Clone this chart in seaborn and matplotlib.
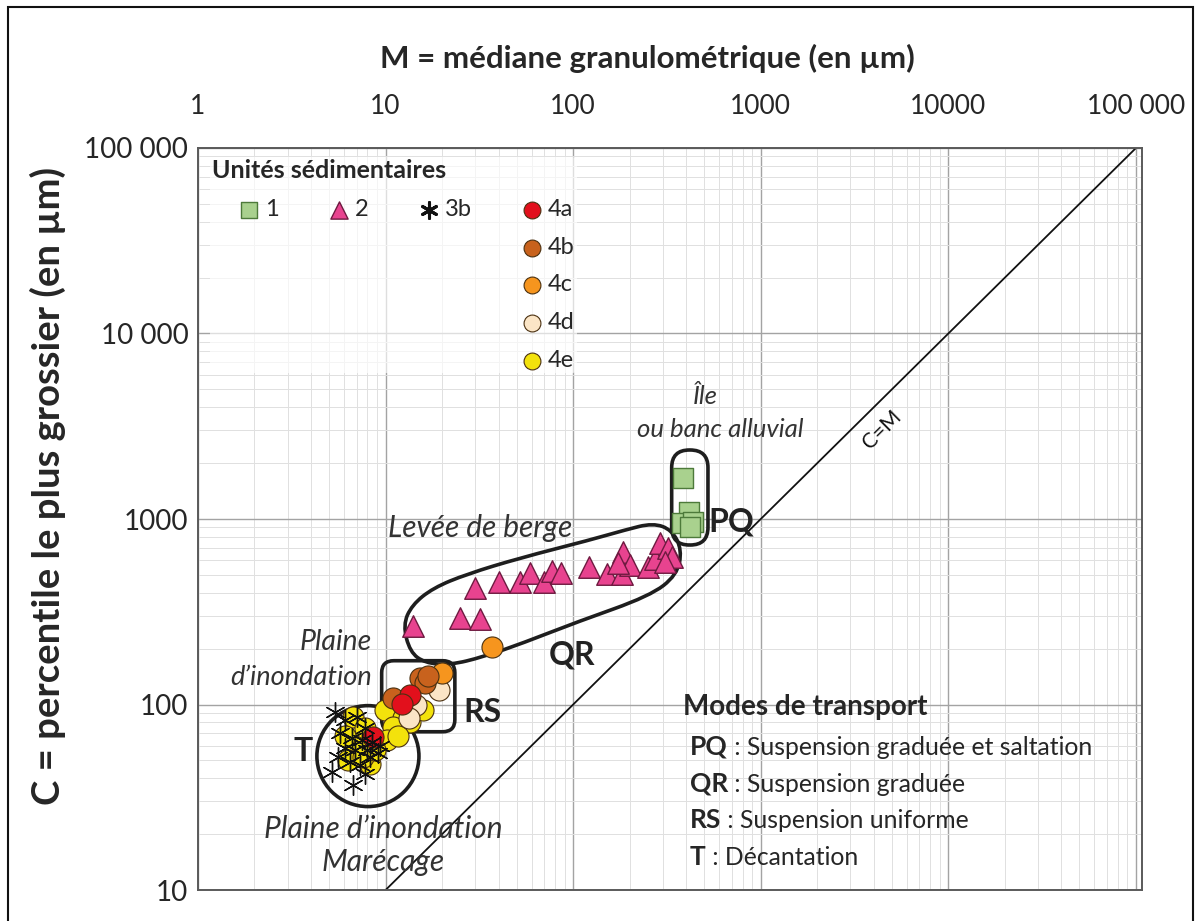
import numpy as np
import pandas as pd
import matplotlib
matplotlib.use('Agg')
import matplotlib.pyplot as plt
import seaborn as sns
from matplotlib.path import Path
from matplotlib.patches import PathPatch, Rectangle
from matplotlib.lines import Line2D
from matplotlib.ticker import LogLocator, NullFormatter

# --- points (M and C in µm) ---
unit1_m = [385, 415, 380, 435, 420]
unit1_c = [1660, 1090, 950, 960, 900]

unit2_m = [14, 25, 32, 30, 40, 52, 59, 70, 77, 86, 122, 151, 185, 181, 201, 173,
           251, 273, 290, 320, 335, 309]
unit2_c = [265, 292, 288, 423, 459, 459, 510, 459, 524, 510, 553, 505, 666, 505, 565, 579,
           553, 609, 742, 698, 626, 589]

unit3b_m = [5.4, 6.1, 7.0, 7.8, 5.7, 6.6, 7.5, 8.5, 6.1, 6.9, 8.0, 9.1, 5.6, 6.5,
            7.3, 8.3, 5.2, 6.7, 7.8, 9.3]
unit3b_c = [91, 82, 86, 75, 70, 66, 64, 63, 58, 57, 57, 55, 52, 49,
            47, 52, 43, 37, 42, 60]

unit4a_m = [13.5, 12.2, 8.6]
unit4a_c = [112, 101, 67]
unit4b_m = [15.3, 16.3, 16.8, 10.9]
unit4b_c = [139, 130, 142, 108]
unit4c_m = [36.8, 20.0]
unit4c_c = [205, 148]
unit4d_m = [19.3, 14.6, 13.3]
unit4d_c = [120, 99, 85]
unit4e_m = [9.9, 12.4, 13.5, 15.8, 10.9, 10.2, 6.7, 6.9, 8.3, 6.3, 7.6, 8.8, 11.6, 7.8, 6.1]
unit4e_c = [93, 85, 80, 93, 76, 64, 86, 62, 48, 50, 52, 57, 68, 75, 68]

# envelopes of the transport modes (µm)
pq_box = (335, 523, 724, 2355)        # M min, M max, C min, C max
rs_box = (9.53, 23.4, 71.3, 172.2)
t_centre = (8.05, 52.7)
qr_m = [12.38, 13.82, 17.89, 27.17, 52.04, 122.9, 188.8, 266.4, 336.3, 380.2,
        357.5, 256.7, 104.8, 54.0, 33.04, 22.04, 16.22, 13.49, 12.38]
qr_c = [268.4, 343.9, 424.6, 505.1, 616.3, 770.6, 872.5, 951.5, 872.5, 680.7,
        498.9, 384.6, 278.5, 214.5, 180.4, 163.3, 167.4, 191.9, 222.7]

cm_line = [10, 107700]

x_ticks = [1, 10, 100, 1000, 10000, 100000]
x_tick_labels = ['1', '10', '100', '1000', '10000', '100 000']
y_ticks = [10, 100, 1000, 10000, 100000]
y_tick_labels = ['10', '100', '1000', '10 000', '100 000']

sns.set_style('white')
plt.rcParams['font.family'] = ['Lato', 'DejaVu Sans']

ENV = '#1e1e1e'


def log_path(verts, codes):
    return Path(10 ** np.asarray(verts, dtype=float), codes)


def rounded_box(m0, m1, c0, c1, r):
    u0, u1, v0, v1 = np.log10([m0, m1, c0, c1])
    verts = [(u0 + r, v0), (u1 - r, v0), (u1, v0), (u1, v0 + r), (u1, v1 - r),
             (u1, v1), (u1 - r, v1), (u0 + r, v1), (u0, v1), (u0, v1 - r),
             (u0, v0 + r), (u0, v0), (u0 + r, v0)]
    codes = [Path.MOVETO, Path.LINETO, Path.CURVE3, Path.CURVE3, Path.LINETO,
             Path.CURVE3, Path.CURVE3, Path.LINETO, Path.CURVE3, Path.CURVE3,
             Path.LINETO, Path.CURVE3, Path.CURVE3]
    return log_path(verts, codes)


def smooth_loop(ms, cs):
    p = np.log10(np.column_stack([ms, cs]))[:-1]
    mids = (p + np.roll(p, -1, axis=0)) / 2
    verts = [mids[-1]]
    for i in range(len(p)):
        verts += [p[i], mids[i]]
    codes = [Path.MOVETO] + [Path.CURVE3] * (2 * len(p))
    return log_path(verts, codes)


def circle(mc, cc, r):
    unit = Path.unit_circle()
    verts = unit.vertices * r + np.log10([mc, cc])
    return log_path(verts, unit.codes)


fig = plt.figure(figsize=(12, 9.21), dpi=100)
ax = fig.add_axes([198 / 1200, 1 - 890 / 921, 944 / 1200, 742 / 921])
ax.set_xscale('log')
ax.set_yscale('log')
ax.set_xlim(1, 107700)
ax.set_ylim(10, 100000)

for loc_axis in (ax.xaxis, ax.yaxis):
    loc_axis.set_minor_locator(LogLocator(base=10, subs=np.arange(2, 10), numticks=100))
    loc_axis.set_minor_formatter(NullFormatter())
ax.grid(which='major', color='#a3a3a3', lw=1.0)
ax.grid(which='minor', color='#e0e0e0', lw=0.7)
ax.set_axisbelow(True)

ax.xaxis.tick_top()
ax.set_xticks(x_ticks, labels=x_tick_labels)
ax.set_yticks(y_ticks, labels=y_tick_labels)
ax.tick_params(which='both', length=0, labelsize=19)
ax.tick_params(axis='y', labelsize=20)
ax.tick_params(axis='x', pad=21)
ax.tick_params(axis='y', pad=7)
for s in ax.spines.values():
    s.set_color('#5a5a5a')
    s.set_linewidth(1.4)

ax.set_xlabel('M = médiane granulométrique (en µm)', fontsize=22.5, fontweight='bold')
ax.xaxis.set_label_position('top')
ax.xaxis.set_label_coords(0.476, 1.121)
ax.xaxis.label.set_va('center')
ax.set_ylabel('C = percentile le plus grossier (en µm)', fontsize=27.5, fontweight='bold')
ax.yaxis.set_label_coords(-0.159, 0.545)
ax.yaxis.label.set_va('center')

# C = M
ax.plot(cm_line, cm_line, color='#111111', lw=1.3, zorder=2)

# envelopes
for path in (rounded_box(*pq_box, 0.095), rounded_box(*rs_box, 0.065),
             circle(*t_centre, 0.272), smooth_loop(qr_m, qr_c)):
    ax.add_patch(PathPatch(path, fill=False, ec=ENV, lw=2.6, zorder=3))

# points
sns.scatterplot(x=unit1_m, y=unit1_c, marker='s', s=210, color='#a9d18e',
                edgecolor='#4d7a3a', linewidth=1.0, label='1', ax=ax, zorder=4)
sns.scatterplot(x=unit2_m, y=unit2_c, marker='^', s=240, color='#e8438f',
                edgecolor='#6e1a40', linewidth=1.0, label='2', ax=ax, zorder=4)
circles = [('4e', unit4e_m, unit4e_c, '#f3e20c'),
           ('4d', unit4d_m, unit4d_c, '#fbe5c6'),
           ('4c', unit4c_m, unit4c_c, '#f6951e'),
           ('4b', unit4b_m, unit4b_c, '#c8621d'),
           ('4a', unit4a_m, unit4a_c, '#e2101c')]
for lab, ms, cs, col in circles:
    sns.scatterplot(x=ms, y=cs, marker='o', s=230, color=col, edgecolor='#4a3010',
                    linewidth=0.8, label=lab, ax=ax, zorder=5)
sns.scatterplot(x=unit3b_m, y=unit3b_c, marker=(6, 2, 0), s=200, color='#111111',
                linewidth=1.0, label='3b', ax=ax, zorder=6)

# legend: 4 columns, only the last one full
handles, labels = ax.get_legend_handles_labels()
hmap = dict(zip(labels, handles))
blank = Line2D([], [], linestyle='none')
order = ['1', '', '', '', '', '2', '', '', '', '', '3b', '', '', '', '',
         '4a', '4b', '4c', '4d', '4e']
leg = ax.legend([hmap[k] if k else blank for k in order], order, ncol=4,
                loc='upper left', bbox_to_anchor=(0.0, 1.004),
                title='Unités sédimentaires', alignment='left',
                title_fontproperties={'weight': 'bold', 'size': 18},
                fontsize=17, markerscale=0.8, handlelength=3.1,
                handletextpad=-0.87, columnspacing=1.0, labelspacing=0.71,
                frameon=True, framealpha=0.65, edgecolor='none', facecolor='white',
                borderpad=0.1)
leg.set_zorder(7)
leg.legend_handles[order.index('3b')].set_linewidth(2.2)

# region labels
ital = dict(style='italic', color='#333333', zorder=8)
ax.text(435, 4548, 'Île', ha='left', va='center', fontsize=18.5, **ital)
ax.text(606, 3019, 'ou banc alluvial', ha='center', va='center', fontsize=18.5, **ital)
ax.text(31.9, 894, 'Levée de berge', ha='center', va='center', fontsize=21.5, **ital)
ax.text(8.46, 217, 'Plaine', ha='right', va='center', fontsize=20.5, **ital)
ax.text(8.46, 139, 'd\u2019inondation', ha='right', va='center', fontsize=19.5, **ital)
ax.text(9.69, 21.3, 'Plaine d\u2019inondation', ha='center', va='center', fontsize=21.5, **ital)
ax.text(9.69, 14.2, 'Marécage', ha='center', va='center', fontsize=21.5, **ital)

bold = dict(fontsize=23, fontweight='bold', color='#222222', ha='center', va='center', zorder=8)
ax.text(693, 964, 'PQ', **bold)
ax.text(98.5, 185, 'QR', **bold)
ax.text(33.0, 91.1, 'RS', **bold)
ax.text(3.63, 55.5, 'T', **bold)
ax.text(4426, 3020, 'C=M', fontsize=15, rotation=44.7, ha='center', va='center',
        color='#111111', zorder=8)

# transport modes box
ax.text(0.514, 0.2466, 'Modes de transport', transform=ax.transAxes, fontsize=20,
        fontweight='bold', va='center', ha='left', zorder=8)
modes = [('PQ', 'Suspension graduée et saltation', 0.193),
         ('QR', 'Suspension graduée', 0.143),
         ('RS', 'Suspension uniforme', 0.0943),
         ('T', 'Décantation', 0.0445)]
for abbr, desc, yy in modes:
    t = ax.text(0.521, yy, abbr, transform=ax.transAxes, fontsize=19,
                fontweight='bold', va='center', ha='left', zorder=8)
    ax.annotate(' : ' + desc, xy=(1, 0), xycoords=t, fontsize=17.8, va='bottom',
                ha='left', zorder=8)

fig.patches.append(Rectangle((8 / 1200, -0.02), 1185 / 1200, 1.02 - 7 / 921,
                             transform=fig.transFigure, fill=False, ec='#111111', lw=1.5))

fig.savefig('out.png', dpi=100)
